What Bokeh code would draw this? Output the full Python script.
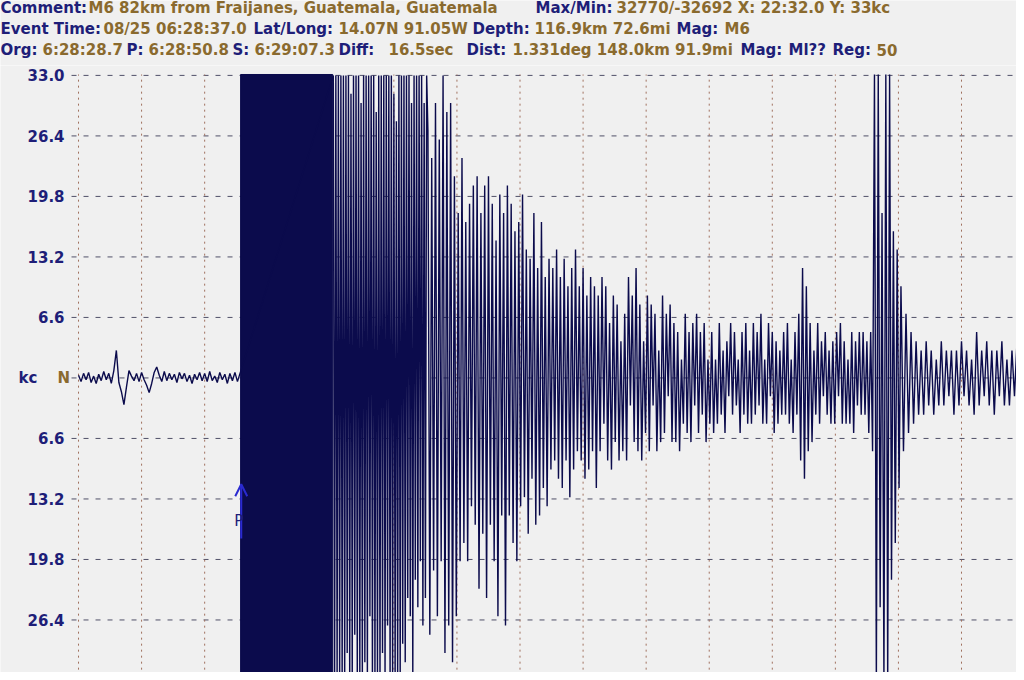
import numpy as np
from bokeh.plotting import figure
from bokeh.layouts import column
from bokeh.models import (ColumnDataSource, Label, Arrow, OpenHead, Range1d)
from bokeh.core.properties import value
from bokeh.embed import file_html
from bokeh.resources import INLINE

# ---------------- data ----------------
header_line1 = [("Comment:", "key"), ("M6 82km from Fraijanes, Guatemala, Guatemala", "val"),
                ("Max/Min:", "key"), ("32770/-32692 X: 22:32.0 Y: 33kc", "val")]
header_line2 = [("Event Time:", "key"), ("08/25 06:28:37.0", "val"), ("Lat/Long:", "key"),
                ("14.07N 91.05W", "val"), ("Depth:", "key"), ("116.9km 72.6mi", "val"),
                ("Mag:", "key"), ("M6", "val")]
header_line3 = [("Org:", "key"), ("6:28:28.7", "val"), ("P:", "key"), ("6:28:50.8", "val"),
                ("S:", "key"), ("6:29:07.3", "val"), ("Diff:", "key"), ("16.5sec", "val"),
                ("Dist:", "key"), ("1.331deg 148.0km 91.9mi", "val"), ("Mag:", "key"),
                ("Ml??", "key"), ("Reg:", "key"), ("50", "val")]

y_ticks = [-33.0, -26.4, -19.8, -13.2, -6.6, 0.0, 6.6, 13.2, 19.8, 26.4, 33.0]
y_tick_labels = ["33.0", "26.4", "19.8", "13.2", "6.6", "", "6.6", "13.2", "19.8", "26.4", "33.0"]
x_divisions = list(range(16))
channel_unit, channel_name = "kc", "N"

full_scale = 33.1  # display clip level (kc)

# trace (kc), x in grid divisions
pre_event_start, pre_event_step = 0.0, 0.04
pre_event = [0.3, -0.4, 0.5, -0.2, 0.6, -0.5, 0.2, -0.6, 0.4, -0.3,
             0.7, -0.2, 0.5, -0.6, 0.8, 3.0, -0.5, -1.5, -2.9, -1.0,
             0.8, 0.2, -0.3, 0.5, -0.4, 0.6, -0.2, -0.8, -1.6, -0.6,
             0.6, 1.2, 0.3, -0.4, 0.7, -0.3, 0.5, -0.2, 0.4, -0.5,
             0.6, -0.1, 0.5, -0.4, 0.3, -0.6, 0.4, -0.2, 0.6, -0.3,
             0.5, -0.4, 0.7, -0.3, 0.2, -0.5, 0.6, -0.2, 0.4, -0.6,
             0.5, -0.3, 0.6, -0.4]

clip_start, clip_end = 2.57, 4.03
p_pick = 2.58

burst_start, burst_step = 4.04, 0.02
burst = [33, -33, 33, -33, 33, -33, 33, -33, 33, -33,
         33, -30, 33, -33, 31, -33, 33, -28, 33, -33,
         33, -33, 30, -33, 33, -31, 33, -33, 33, -26,
         33, -33, 33, -33, 29, -33, 33, -33, 33, -30,
         33, -33, 33, -27, 33, -33, 33, -33, 31, -33,
         28, -33, 33, -33, 33, -29, 33, -31, 33, -24,
         33, -26, 30, -33, 33, -22, 33, -25, 33, -20,
         33, -27, 30, -24, 33]

p_coda_start, p_coda_step = 5.54, 0.03
p_coda = [27, -28, 24, -21, 30, -26, 26, -20, 33, -30,
          29, -27, 30, -31, 22, -26, 18, -20, 24, -18,
          17, -20, 19, -14, 21, -16, 22, -23, 18, -17,
          21, -24, 22, -16, 19, -20, 15, -26, 20, -15,
          18, -27, 21, -15, 19, -18, 16, -20, 17, -14]

s_coda_start, s_coda_step = 7.04, 0.03
s_coda = [20, -13, 14, -17, 13, -11, 18, -16, 12, -15,
          17, -12, 11, -14, 13, -10, 12, -9, 14, -11,
          11, -12, 13, -9, 10, -13, 12, -10, 14, -8,
          10, -9, 12, -11, 9, -10, 11, -8, 10, -12,
          9, -8, 11, -5, 10, -9, 6, -10, 9, -7,
          8, -9, 4, -8, 7, -9, 11, -3, 9, -7,
          12, -8, 8, -9, 4, -6, 9, -8, 8, -3,
          7, -8, 3, -7, 9, -6, 7, -2, 8, -7,
          6, -7, 5, -8, 2, -5, 7, -6, 5, -7,
          6, -3, 7, -6, 5, -4, 6, -7, 2, -5]

late_coda_start, late_coda_step = 10.04, 0.03
late_coda = [5, -6, 2, -5, 6, -4, 3, -6, 4, -2,
             6, -4, 5, -3, 2, -6, 5, -4, 6, -5,
             3, -5, 6, -4, 5, -3, 7, -5, 2, -5,
             6, -2, 5, -6, 4, -5, 3, -4, 5, -4,
             6, -5, 2, -6, 5, -4, 7, -9, 12, -11,
             10, -8, 6, -7, 3, -4, 6, -5, 4, -2,
             5, -4, 3, -5, 4, -5, 5, -2, 6, -5,
             4, -5, 2, -5, 5, -6, 4, -3, 5, -4,
             5, -4, 4, -6, 5, -8, 33.1, -33.1, 33.1, -25,
             18, -33.1, 33.1, -33.1, 33.1, -22, 16, -18, 14, -12]

tail_start, tail_step = 13.04, 0.04
tail = [10, -8, 7, -6, 5, -5, 4, -4, 3, -4,
        4, -3, 3, -4, 2, -3, 4, -3, 3, -2,
        3, -4, 3, -3, 4, -2, 3, -3, 2, -4,
        5, -3, 3, -2, 4, -3, 3, -4, 3, -2,
        4, -3, 2, -3, 3, -2, 4, -3, 3]

# ---------------- build ----------------
segments = [(pre_event_start, pre_event_step, pre_event),
            (burst_start, burst_step, burst),
            (p_coda_start, p_coda_step, p_coda),
            (s_coda_start, s_coda_step, s_coda),
            (late_coda_start, late_coda_step, late_coda),
            (tail_start, tail_step, tail)]
xs, ys = [], []
for start, step, vals in segments:
    xs.extend(start + step * np.arange(len(vals)))
    ys.extend(np.clip(vals, -full_scale, full_scale))
src = ColumnDataSource(dict(x=xs, y=ys))

NAVY = "#1e1e78"
BROWN = "#8a6a2e"
TRACE = "#0b0b4c"
BG = "#f0f0f0"
HGRID = "#505068"
VGRID = "#a0705e"
FONT = "DejaVu Sans"

W = 1016
HEAD_H = 65
MAIN_H = 672 - HEAD_H

# ---- header figure (pixel coordinates, y downward) ----
hdr = figure(width=W, height=HEAD_H, output_backend="svg", toolbar_location=None,
             x_range=Range1d(0, W), y_range=Range1d(HEAD_H, 0),
             min_border=0, min_border_left=0, min_border_right=0,
             min_border_top=0, min_border_bottom=0)
hdr.axis.visible = False
hdr.grid.visible = False
hdr.outline_line_color = None
hdr.background_fill_color = BG
hdr.border_fill_color = BG

line_x = [
    [0, 88, 535, 616],
    [0, 103, 253, 338, 472, 534, 676, 724],
    [0, 42, 126, 148, 232, 254, 338, 388, 466, 512, 740, 788, 832, 876],
]
line_y = [7, 28, 49]
hx, hy, ht, hc = [], [], [], []
for segs, xpos, yy in zip([header_line1, header_line2, header_line3], line_x, line_y):
    for (txt, kind), x in zip(segs, xpos):
        hx.append(x); hy.append(yy); ht.append(txt)
        hc.append(NAVY if kind == "key" else BROWN)
hdr.text(x="x", y="y", text="t", text_color="c",
         source=ColumnDataSource(dict(x=hx, y=hy, t=ht, c=hc)),
         text_font=value(FONT), text_font_style="bold", text_font_size="15px",
         text_align="left", text_baseline="middle")

# ---- main seismogram figure: frame fills canvas; scale ~63.07 px/div, 9.167 px/kc ----
x_left, x_right = -1.237, 14.872
y_bottom, y_top = -32.13, 34.08
p = figure(width=W, height=MAIN_H, output_backend="svg", toolbar_location=None,
           x_range=Range1d(x_left, x_right), y_range=Range1d(y_bottom, y_top),
           min_border=0, min_border_left=0, min_border_right=0,
           min_border_top=0, min_border_bottom=0)
p.background_fill_color = BG
p.border_fill_color = BG
p.outline_line_color = None
p.axis.visible = False
p.grid.visible = False

# grid lines
grid_x0 = -0.111
p.segment(x0=grid_x0, x1=x_right + 1, y0=y_ticks, y1=y_ticks,
          line_color=HGRID, line_dash="5 7", line_width=1)
p.segment(x0=x_divisions, x1=x_divisions, y0=y_bottom - 1, y1=full_scale,
          line_color=VGRID, line_dash="2 4", line_width=1)

# tick labels & channel labels
lab_src = ColumnDataSource(dict(y=y_ticks, t=y_tick_labels))
p.text(x=-0.222, y="y", text="t", source=lab_src, text_align="right",
       text_baseline="middle", text_font=value(FONT), text_font_style="bold",
       text_font_size="15px", text_color=NAVY)
p.text(x=[-0.951], y=[0], text=[channel_unit], text_align="left", text_baseline="middle",
       text_font=value(FONT), text_font_style="bold", text_font_size="15px", text_color=NAVY)
p.text(x=[-0.333], y=[0], text=[channel_name], text_align="left", text_baseline="middle",
       text_font=value(FONT), text_font_style="bold", text_font_size="15px", text_color=BROWN)

# waveform
p.quad(left=[clip_start], right=[clip_end], top=[full_scale], bottom=[-full_scale],
       fill_color=TRACE, line_color=TRACE)
p.line("x", "y", source=src, line_color=TRACE, line_width=1.4)

# P pick arrow
p.add_layout(Arrow(end=OpenHead(size=12, line_color="#2a2ad0", line_width=2),
                   x_start=p_pick, y_start=-17.5, x_end=p_pick, y_end=-11.6,
                   line_color="#2a2ad0", line_width=2))
p.add_layout(Label(x=p_pick - 0.04, y=-15.6, text="P", text_align="center",
                   text_baseline="middle", text_font=FONT,
                   text_font_size="15px", text_color=NAVY))

layout = column(hdr, p, spacing=0)
open("out.html", "w").write(file_html(layout, INLINE))
